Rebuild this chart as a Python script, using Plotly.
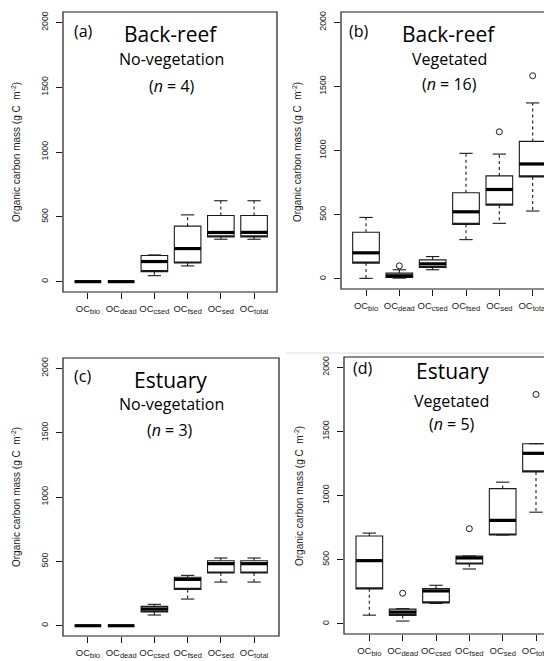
import plotly.graph_objects as go

# ---------------- data ----------------
categories = ["OCbio", "OCdead", "OCcsed", "OCfsed", "OCsed", "OCtotal"]
subs = ["bio", "dead", "csed", "fsed", "sed", "total"]
tick_labels = ["OC<sub><span style='font-size:7.5px'>%s</span></sub>" % s for s in subs]
y_ticks = [0, 500, 1000, 1500, 2000]

# (a) Back-reef, no vegetation (n = 4)
a_lower = [0, 0, 46, 121, 327, 327]
a_q1 = [0, 0, 77, 144, 345, 345]
a_median = [0, 0, 155, 255, 379, 380]
a_q3 = [0, 0, 201, 428, 510, 510]
a_upper = [0, 0, 206, 515, 624, 624]
a_out_cat = []
a_out_val = []

# (b) Back-reef, vegetated (n = 16)
b_lower = [3, 5, 70, 305, 432, 528]
b_q1 = [122, 10, 88, 424, 574, 794]
b_median = [202, 23, 116, 522, 696, 895]
b_q3 = [362, 44, 147, 670, 802, 1071]
b_upper = [478, 70, 173, 978, 972, 1371]
b_out_cat = ["OCdead", "OCsed", "OCtotal"]
b_out_val = [101, 1146, 1583]

# (c) Estuary, no vegetation (n = 3)
c_lower = [0, 0, 83, 207, 339, 339]
c_q1 = [0, 0, 106, 282, 409, 409]
c_median = [0, 0, 130, 360, 482, 482]
c_q3 = [0, 0, 150, 376, 505, 505]
c_upper = [0, 0, 166, 391, 526, 526]
c_out_cat = []
c_out_val = []

# (d) Estuary, vegetated (n = 5)
d_lower = [67, 21, 158, 427, 692, 870]
d_q1 = [272, 65, 163, 466, 692, 1184]
d_median = [492, 91, 256, 513, 806, 1329]
d_q3 = [684, 114, 275, 528, 1054, 1404]
d_upper = [707, 118, 300, 528, 1104, 1404]
d_out_cat = ["OCdead", "OCfsed", "OCtotal"]
d_out_val = [238, 741, 1788]

panel_tags = ["(a)", "(b)", "(c)", "(d)"]
panel_sites = ["Back-reef", "Back-reef", "Estuary", "Estuary"]
panel_types = ["No-vegetation", "Vegetated", "No-vegetation", "Vegetated"]
panel_n = [4, 16, 3, 5]

# ---------------- layout geometry (page pixels) ----------------
PAGE_W, PAGE_H = 552, 661
OFF = 8  # default body margin of the html page
W, H = PAGE_W - OFF, PAGE_H - OFF
BOXW = 0.8
CAPW = 0.4


def px_x(v):
    return (v - OFF) / W


def px_y(v):
    return 1 - (v - OFF) / H


panels = [
    dict(data=(a_lower, a_q1, a_median, a_q3, a_upper, a_out_cat, a_out_val),
         frame=(63, 277, 12, 292), xr=(0.25, 6.69), right=1.0,
         tag=(83, 31), site=(171, 34), typ=(171, 59), n=(172, 86), ttl=(16, 152)),
    dict(data=(b_lower, b_q1, b_median, b_q3, b_upper, b_out_cat, b_out_val),
         frame=(341, 552, 12, 289), xr=(0.25, 6.58), right=1.05,
         tag=(359, 31), site=(449, 34), typ=(449, 59), n=(449, 84), ttl=(297, 152)),
    dict(data=(c_lower, c_q1, c_median, c_q3, c_upper, c_out_cat, c_out_val),
         frame=(63, 279, 358, 636), xr=(0.25, 6.75), right=1.0,
         tag=(82, 376), site=(170, 380), typ=(171, 404), n=(170, 430), ttl=(16, 497)),
    dict(data=(d_lower, d_q1, d_median, d_q3, d_upper, d_out_cat, d_out_val),
         frame=(344, 552, 357, 634), xr=(0.24, 6.48), right=1.05,
         tag=(363, 368), site=(452, 371), typ=(451, 401), n=(452, 424), ttl=(299, 496)),
]

fig = go.Figure()
shapes = []
annotations = []
layout = {}

pos = [i + 1 for i in range(len(categories))]
INK = "#1a1a1a"

for k, p in enumerate(panels):
    lower, q1, med, q3, upper, out_cat, out_val = p["data"]
    sfx = "" if k == 0 else str(k + 1)
    xa, ya = "x" + sfx, "y" + sfx

    # boxes
    fig.add_trace(go.Box(
        x=pos, q1=q1, median=q1, q3=q3, lowerfence=q1, upperfence=q3,
        width=BOXW, fillcolor="white", line=dict(color=INK, width=1.1),
        whiskerwidth=0, boxpoints=False, showlegend=False, hoverinfo="skip",
        xaxis=xa, yaxis=ya))

    # whiskers (dashed)
    wx, wy = [], []
    for i, pp in enumerate(pos):
        wx += [pp, pp, None, pp, pp, None]
        wy += [q3[i], upper[i], None, q1[i], lower[i], None]
    fig.add_trace(go.Scatter(x=wx, y=wy, mode="lines",
                             line=dict(color=INK, width=1.1, dash="3px,3px"),
                             showlegend=False, hoverinfo="skip", xaxis=xa, yaxis=ya))
    # caps
    cx, cy = [], []
    for i, pp in enumerate(pos):
        cx += [pp - CAPW / 2, pp + CAPW / 2, None, pp - CAPW / 2, pp + CAPW / 2, None]
        cy += [upper[i], upper[i], None, lower[i], lower[i], None]
    fig.add_trace(go.Scatter(x=cx, y=cy, mode="lines",
                             line=dict(color=INK, width=1.1),
                             showlegend=False, hoverinfo="skip", xaxis=xa, yaxis=ya))
    # medians (thick)
    mx, my = [], []
    for i, pp in enumerate(pos):
        mx += [pp - BOXW / 2, pp + BOXW / 2, None]
        my += [med[i], med[i], None]
    fig.add_trace(go.Scatter(x=mx, y=my, mode="lines",
                             line=dict(color="black", width=3.2),
                             showlegend=False, hoverinfo="skip", xaxis=xa, yaxis=ya))
    # outliers
    if out_cat:
        fig.add_trace(go.Scatter(
            x=[categories.index(c) + 1 for c in out_cat], y=out_val, mode="markers",
            marker=dict(symbol="circle-open", size=6, color=INK, line=dict(width=1)),
            showlegend=False, hoverinfo="skip", xaxis=xa, yaxis=ya))

    x0, x1, y0, y1 = p["frame"]
    layout["xaxis" + sfx] = dict(
        domain=[px_x(x0), min(1.0, px_x(x1))], range=list(p["xr"]), anchor=ya,
        tickvals=pos, ticktext=tick_labels, ticks="outside", ticklen=6,
        tickwidth=1, tickcolor=INK, showgrid=False, zeroline=False,
        showline=False, tickfont=dict(family="Liberation Sans", size=9.5, color=INK),
        ticklabelstandoff=2)
    layout["yaxis" + sfx] = dict(
        domain=[px_y(y1), px_y(y0)], range=[-80, 2080], anchor=xa,
        tickvals=y_ticks, ticktext=[str(t) for t in y_ticks], tickangle=-90,
        ticks="outside", ticklen=6, tickwidth=1, tickcolor=INK,
        showgrid=False, zeroline=False, showline=False,
        tickfont=dict(family="Liberation Sans", size=8.8, color=INK),
        ticklabelstandoff=4)

    shapes.append(dict(type="rect", xref=xa + " domain", yref=ya + " domain",
                       x0=0, x1=p["right"], y0=0, y1=1,
                       line=dict(color=INK, width=1.2), layer="above"))

    of = "Open Sans"
    annotations.append(dict(text=panel_tags[k], x=px_x(p["tag"][0]), y=px_y(p["tag"][1]),
                            font=dict(family=of, size=16, color="black")))
    annotations.append(dict(text=panel_sites[k], x=px_x(p["site"][0]), y=px_y(p["site"][1]),
                            font=dict(family=of, size=21, color="black")))
    annotations.append(dict(text=panel_types[k], x=px_x(p["typ"][0]), y=px_y(p["typ"][1]),
                            font=dict(family=of, size=16, color="black")))
    annotations.append(dict(text="(<i>n</i> = %d)" % panel_n[k], x=px_x(p["n"][0]),
                            y=px_y(p["n"][1]), font=dict(family=of, size=16, color="black")))
    annotations.append(dict(text="Organic carbon mass (g C  m<sup>-2</sup>)",
                            x=px_x(p["ttl"][0]), y=px_y(p["ttl"][1]), textangle=-90,
                            font=dict(family="Liberation Sans", size=10, color=INK)))

for a in annotations:
    a.update(xref="paper", yref="paper", showarrow=False,
             xanchor="center", yanchor="middle")

# faint separator line visible in the source image
shapes.append(dict(type="line", xref="paper", yref="paper",
                   x0=px_x(286), x1=1, y0=px_y(353), y1=px_y(353),
                   line=dict(color="#dcdcdc", width=1)))

fig.update_layout(
    width=W, height=H, margin=dict(l=0, r=0, t=0, b=0),
    paper_bgcolor="white", plot_bgcolor="white",
    shapes=shapes, annotations=annotations, showlegend=False,
    **layout)

fig.write_html("out.html")
